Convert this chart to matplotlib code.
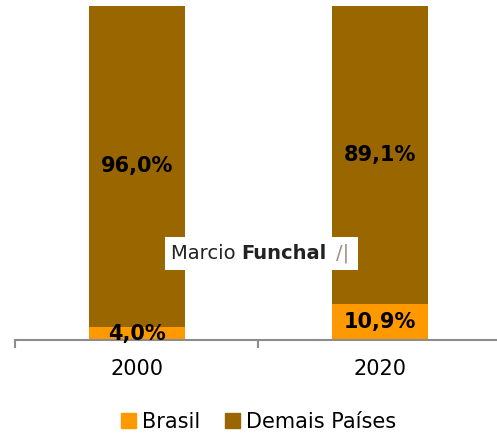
import numpy as np
import matplotlib.pyplot as plt
from matplotlib.patches import Patch, Rectangle

anos = ['2000', '2020']
brasil = [4.0, 10.9]
demais = [96.0, 89.1]

cor_brasil = '#FF9900'
cor_demais = '#996600'

fig = plt.figure(figsize=(4.97, 4.37), dpi=100)
ax = fig.add_axes([0.031, 0.222, 0.978, 0.764])

x = np.arange(len(anos))
larg = 0.395
ax.bar(x, brasil, larg, color=cor_brasil, label='Brasil')
ax.bar(x, demais, larg, bottom=brasil, color=cor_demais, label='Demais Países')

for i in range(len(anos)):
    ax.text(x[i], brasil[i] / 2 - 0.3 if brasil[i] < 6 else brasil[i] / 2,
            '{:.1f}%'.format(brasil[i]).replace('.', ','),
            ha='center', va='center', fontsize=15, fontweight='bold', color='black')
    ax.text(x[i], brasil[i] + demais[i] / 2, '{:.1f}%'.format(demais[i]).replace('.', ','),
            ha='center', va='center', fontsize=15, fontweight='bold', color='black')

ax.set_xlim(-0.5, 1.5)
ax.set_ylim(0, 100)
ax.set_yticks([])
for s in ['top', 'right', 'left']:
    ax.spines[s].set_visible(False)
ax.spines['bottom'].set_color('#8c8c8c')
ax.spines['bottom'].set_linewidth(1.5)
ax.set_xticks([-0.5, 0.5, 1.5], minor=False)
ax.set_xticklabels([])
ax.tick_params(axis='x', which='major', length=6, width=1.5, color='#8c8c8c', direction='out')
ax.set_xticks(x, minor=True)
ax.set_xticklabels(anos, minor=True, fontsize=15)
ax.tick_params(axis='x', which='minor', length=0, pad=14)

# marca d'agua
ax.add_patch(Rectangle((0.115, 21), 0.794, 9.8, facecolor='white', edgecolor='none', zorder=3))
ax.text(0.43, 25.9, 'Marcio ', ha='right', va='center', fontsize=14, color='#222222',
        zorder=4)
ax.text(0.43, 25.9, 'Funchal', ha='left', va='center', fontsize=14, fontweight='bold',
        color='#222222', zorder=4)
ax.text(0.82, 25.9, '/|', ha='left', va='center', fontsize=14, color='#a09080', zorder=4)

handles = [Patch(color=cor_brasil, label='Brasil'), Patch(color=cor_demais, label='Demais Países')]
fig.legend(handles=handles, loc='center', bbox_to_anchor=(0.52, 0.035), ncol=2,
           frameon=False, fontsize=15, handlelength=0.7, handleheight=0.7,
           handletextpad=0.3, columnspacing=1.2)

fig.savefig('out.png', dpi=100)
